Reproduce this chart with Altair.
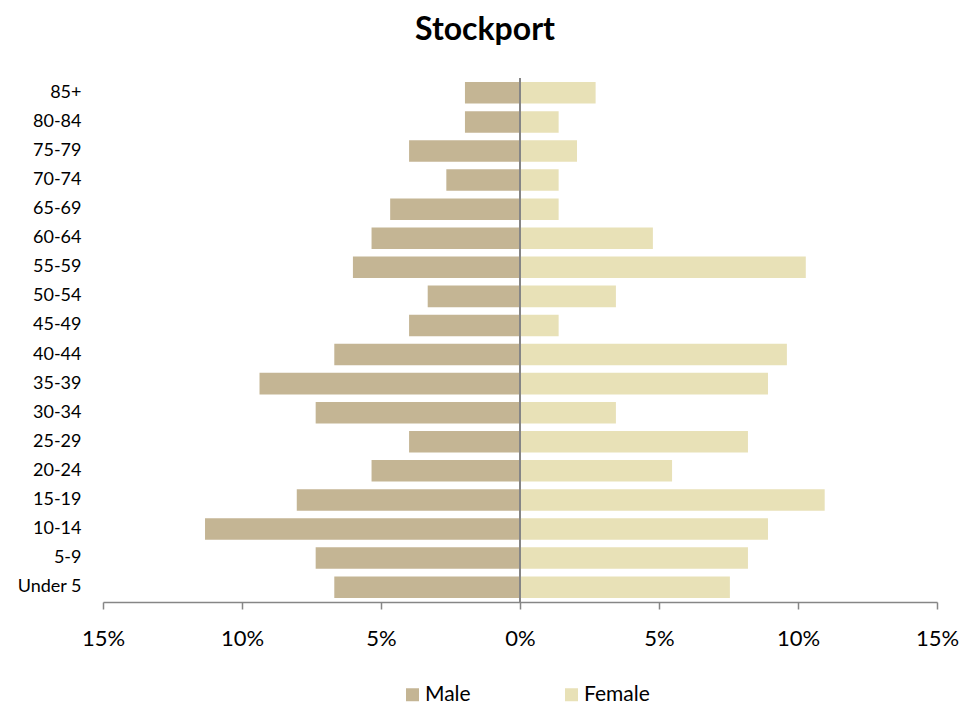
import altair as alt
import pandas as pd

ages = ["85+", "80-84", "75-79", "70-74", "65-69", "60-64", "55-59", "50-54", "45-49",
        "40-44", "35-39", "30-34", "25-29", "20-24", "15-19", "10-14", "5-9", "Under 5"]
male = [1.98, 1.98, 3.99, 2.65, 4.67, 5.34, 6.01, 3.32, 3.99,
        6.68, 9.37, 7.35, 3.99, 5.34, 8.03, 11.33, 7.35, 6.68]
female = [2.72, 1.39, 2.05, 1.39, 1.39, 4.78, 10.28, 3.45, 1.39,
          9.60, 8.92, 3.45, 8.20, 5.47, 10.96, 8.92, 8.20, 7.55]
sexes = ["Male", "Female"]
colors = ["#C4B594", "#E8E1B7"]
ticks = [-15, -10, -5, 0, 5, 10, 15]

rows = []
for a, m, f in zip(ages, male, female):
    rows.append({"age": a, "sex": "Male", "value": -m})
    rows.append({"age": a, "sex": "Female", "value": f})
df = pd.DataFrame(rows)

FONT = "Lato"

bars = alt.Chart(df).mark_bar().encode(
    y=alt.Y("age:N", sort=ages,
            scale=alt.Scale(paddingInner=0.26, paddingOuter=0.14),
            axis=alt.Axis(title=None, domain=False, ticks=False, labelFontSize=18,
                          labelFont=FONT, labelColor="#000000", labelPadding=22)),
    x=alt.X("value:Q", scale=alt.Scale(domain=[-15, 15], nice=False),
            axis=alt.Axis(title=None, values=ticks, grid=False, labelFlush=False,
                          labelExpr="abs(datum.value) + '%'",
                          domainColor="#868686", domainWidth=1.5,
                          tickColor="#868686", tickWidth=1.5, tickSize=7,
                          labelFontSize=22, labelFont=FONT, labelColor="#000000",
                          labelPadding=19)),
    color=alt.Color("sex:N", scale=alt.Scale(domain=sexes, range=colors),
                    legend=alt.Legend(title=None, orient="none", legendX=299, legendY=606,
                                      direction="horizontal", symbolType="square",
                                      symbolSize=169, symbolStrokeWidth=0,
                                      labelFontSize=21, labelFont=FONT,
                                      labelColor="#000000", labelOffset=2,
                                      columnPadding=90, padding=0)),
)

zero = alt.Chart(pd.DataFrame({"x": [0]})).mark_rule(color="#868686", strokeWidth=2).encode(
    x="x:Q"
)

chart = alt.layer(bars, zero).properties(
    width=834,
    height=524,
    autosize="none",
    padding={"left": 95, "top": 70, "right": 34, "bottom": 103},
    title=alt.TitleParams("Stockport", fontSize=32, font=FONT, fontWeight="bold",
                          anchor="middle", dx=-35, offset=30, color="#000000"),
).configure_view(stroke=None)

chart.save("out.html", embed_options={"renderer": "svg", "actions": False})
